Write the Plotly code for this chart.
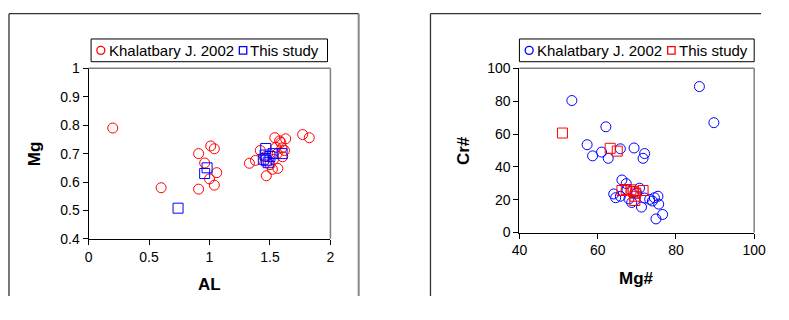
import plotly.graph_objects as go

# The page keeps the browser's default 8px body margin, so the figure is sized to fit
# inside the 789x320 window and all layout positions are given in window pixels.
WIN_W, WIN_H = 789, 320
OFF = 8
W, H = WIN_W - 2 * OFF, WIN_H - 2 * OFF

# Left panel: AL vs Mg
kh_al = [0.2, 0.6, 0.91, 0.91, 0.96, 1.01, 1.04, 1.0, 1.06, 1.04, 1.33, 1.38, 1.42, 1.47, 1.54,
         1.58, 1.63, 1.565, 1.52, 1.62, 1.605, 1.77, 1.825, 1.55, 1.59, 1.46, 1.50, 1.56, 1.60, 1.53]
kh_mg = [0.79, 0.58, 0.70, 0.575, 0.667, 0.727, 0.717, 0.611, 0.633, 0.589, 0.666, 0.676, 0.711, 0.622, 0.756,
         0.745, 0.752, 0.648, 0.645, 0.711, 0.689, 0.767, 0.756, 0.722, 0.739, 0.689, 0.661, 0.70, 0.72, 0.68]
ts_al = [0.74, 0.98, 0.96, 1.465, 1.445, 1.485, 1.525, 1.60, 1.50, 1.47, 1.46]
ts_mg = [0.508, 0.65, 0.63, 0.718, 0.68, 0.668, 0.70, 0.70, 0.69, 0.675, 0.695]

# Right panel: Mg# vs Cr#
kh_mgn = [53.4, 86.0, 89.7, 62.1, 57.3, 58.7, 61.0, 62.7, 65.8, 69.3, 71.6, 72.0, 66.2, 67.3, 64.1, 64.6,
          65.8, 68.7, 71.2, 73.3, 74.5, 75.4, 75.6, 74.9, 76.6, 74.0, 72.0, 70.7, 67.5, 70.0, 68.0]
kh_crn = [80.4, 88.9, 66.9, 64.4, 53.5, 46.7, 49.0, 45.2, 51.0, 51.5, 45.2, 48.1, 32.0, 29.8, 23.5, 21.2,
          22.1, 18.3, 15.5, 20.2, 21.2, 22.1, 17.3, 8.3, 11.0, 19.2, 21.0, 27.0, 26.0, 24.0, 20.5]
ts_mgn = [51.0, 63.2, 65.0, 66.2, 67.3, 69.1, 69.5, 69.5, 71.6, 68.5, 69.7]
ts_crn = [60.6, 51.3, 49.6, 25.6, 26.2, 25.0, 22.1, 19.5, 25.6, 26.0, 24.0]

series_names = ["Khalatbary J. 2002", "This study"]
left_xticks = [0, 0.5, 1, 1.5, 2]
left_yticks = [0.4, 0.5, 0.6, 0.7, 0.8, 0.9, 1]
right_xticks = [40, 60, 80, 100]
right_yticks = [0, 20, 40, 60, 80, 100]

RED = "#FF0000"
BLUE = "#0000FF"
TICKFONT = dict(family="Liberation Sans", size=14, color="#000")
LEGFONT = dict(family="Liberation Sans", size=15, color="#000")
TITLEFONT = dict(family="Liberation Sans", size=17, color="#000")

fig = go.Figure()
fig.add_trace(go.Scatter(x=kh_al, y=kh_mg, mode="markers", name=series_names[0],
                         marker=dict(symbol="circle-open", size=10, color=RED, line=dict(width=1)),
                         xaxis="x", yaxis="y"))
fig.add_trace(go.Scatter(x=ts_al, y=ts_mg, mode="markers", name=series_names[1],
                         marker=dict(symbol="square-open", size=10, color=BLUE, line=dict(width=1)),
                         xaxis="x", yaxis="y"))
fig.add_trace(go.Scatter(x=kh_mgn, y=kh_crn, mode="markers", name=series_names[0],
                         marker=dict(symbol="circle-open", size=10, color=BLUE, line=dict(width=1)),
                         xaxis="x2", yaxis="y2"))
fig.add_trace(go.Scatter(x=ts_mgn, y=ts_crn, mode="markers", name=series_names[1],
                         marker=dict(symbol="square-open", size=10, color=RED, line=dict(width=1)),
                         xaxis="x2", yaxis="y2"))


def px_x(p):
    return min(1.0, max(0.0, (p - OFF) / W))


def px_y(p):
    return min(1.0, max(0.0, 1 - (p - OFF) / H))


axis_common = dict(showgrid=False, zeroline=False, showline=True, linecolor="#000", linewidth=1,
                   ticks="outside", ticklen=5, tickcolor="#000", tickfont=TICKFONT,
                   ticklabeloverflow="allow")

fig.update_layout(
    width=W, height=H, margin=dict(l=0, r=0, t=0, b=0), autosize=False,
    paper_bgcolor="white", plot_bgcolor="white", showlegend=False,
    xaxis=dict(domain=[px_x(90.7), px_x(339)], range=[0, 2], tickvals=left_xticks, anchor="y", **axis_common),
    yaxis=dict(domain=[px_y(251.7), px_y(71.7)], range=[0.4, 1], tickvals=left_yticks, anchor="x", **axis_common),
    xaxis2=dict(domain=[px_x(533), px_x(774)], range=[40, 100], tickvals=right_xticks, anchor="y2", **axis_common),
    yaxis2=dict(domain=[px_y(245), px_y(71.7)], range=[0, 100], tickvals=right_yticks, anchor="x2", **axis_common),
)

shapes = []
annotations = []
BOX = dict(color="#333", width=1.3)
top_y = px_y(14)
# left outer panel box (bottom edge is outside the picture)
shapes.append(dict(type="line", xref="paper", yref="paper", x0=px_x(9), x1=px_x(368), y0=top_y, y1=top_y, line=BOX))
shapes.append(dict(type="line", xref="paper", yref="paper", x0=px_x(9), x1=px_x(9), y0=0, y1=top_y, line=BOX))
shapes.append(dict(type="line", xref="paper", yref="paper", x0=px_x(368), x1=px_x(368), y0=0, y1=top_y,
                   line=dict(color="#888", width=2)))
# right outer panel box (right and bottom edges are outside the picture)
shapes.append(dict(type="line", xref="paper", yref="paper", x0=px_x(441.7), x1=1, y0=top_y, y1=top_y, line=BOX))
shapes.append(dict(type="line", xref="paper", yref="paper", x0=px_x(441.7), x1=px_x(441.7), y0=0, y1=top_y, line=BOX))

# plot-area gray top and right borders
for xa, ya in [("x", "y"), ("x2", "y2")]:
    shapes.append(dict(type="line", xref=f"{xa} domain", yref=f"{ya} domain", x0=0, x1=1, y0=1, y1=1,
                       line=dict(color="#808080", width=1.5)))
    shapes.append(dict(type="line", xref=f"{xa} domain", yref=f"{ya} domain", x0=1, x1=1, y0=0, y1=1,
                       line=dict(color="#808080", width=1.5)))


# legends (Excel style boxes)
def legend_box(bx0, bx1, c_sym_x, c_text_x, s_sym_x, s_text_x, c_col, s_col):
    yc = 52.7
    shapes.append(dict(type="rect", xref="paper", yref="paper", x0=px_x(bx0), x1=px_x(bx1),
                       y0=px_y(64.7), y1=px_y(40.7), line=dict(color="#000", width=1), fillcolor="white"))
    shapes.append(dict(type="circle", xref="paper", yref="paper", xsizemode="pixel", ysizemode="pixel",
                       xanchor=px_x(c_sym_x), yanchor=px_y(yc), x0=-4, x1=4, y0=-4, y1=4,
                       line=dict(color=c_col, width=1.3)))
    shapes.append(dict(type="rect", xref="paper", yref="paper", xsizemode="pixel", ysizemode="pixel",
                       xanchor=px_x(s_sym_x), yanchor=px_y(yc), x0=-3.7, x1=3.7, y0=-3.7, y1=3.7,
                       line=dict(color=s_col, width=1.3)))
    annotations.append(dict(text=series_names[0], x=px_x(c_text_x), y=px_y(yc), xref="paper", yref="paper",
                            showarrow=False, xanchor="left", yanchor="middle", font=LEGFONT))
    annotations.append(dict(text=series_names[1], x=px_x(s_text_x), y=px_y(yc), xref="paper", yref="paper",
                            showarrow=False, xanchor="left", yanchor="middle", font=LEGFONT))


legend_box(93.3, 336, 103.3, 109.5, 249.3, 254.5, RED, BLUE)
legend_box(533, 774, 543, 549.5, 689, 694.5, BLUE, RED)

annotations += [
    dict(text="<b>AL</b>", x=px_x(214.8), y=px_y(300), xref="paper", yref="paper", showarrow=False,
         xanchor="center", yanchor="middle", font=TITLEFONT),
    dict(text="<b>Mg</b>", x=px_x(36), y=px_y(162), xref="paper", yref="paper", showarrow=False,
         xanchor="center", yanchor="middle", textangle=-90, font=TITLEFONT),
    dict(text="<b>Mg#</b>", x=px_x(653.5), y=px_y(293), xref="paper", yref="paper", showarrow=False,
         xanchor="center", yanchor="middle", font=TITLEFONT),
    dict(text="<b>Cr#</b>", x=px_x(475), y=px_y(158), xref="paper", yref="paper", showarrow=False,
         xanchor="center", yanchor="middle", textangle=-90, font=TITLEFONT),
]
fig.update_layout(shapes=shapes, annotations=annotations)

fig.write_html("out.html")
